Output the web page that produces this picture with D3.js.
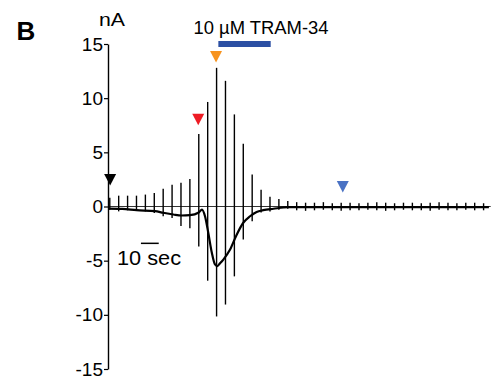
<!DOCTYPE html>
<html>
<head>
<meta charset="utf-8">
<script src="https://cdn.jsdelivr.net/npm/d3@7"></script>
<style>
  body { margin: 0; background: #fff; }
  svg { display: block; font-family: 'Liberation Sans', Arial, sans-serif; }
</style>
</head>
<body>
<svg class="chart" width="493" height="383"></svg>
<script>
// y axis ticks (nA)
const yTicks = [15, 10, 5, 0, -5, -10, -15]

// voltage ramps, one every 5 s (time in s, peak currents in nA)
const spikeTimes = [1, 6, 11, 16, 21, 26, 31, 36, 41, 46, 51, 56, 61, 66, 71, 76, 81, 86, 91, 96, 101,
  106, 111, 116, 121, 126, 131, 136, 141, 146, 151, 156, 161, 166, 171, 176, 181, 186, 191, 196, 201, 206, 211]
const spikeTops = [0.8, 1.0, 1.0, 1.0, 1.1, 1.25, 1.65, 2.0, 2.2, 2.55, 6.7, 9.65, 12.8, 11.6, 8.5, 5.8, 2.95, 1.55, 0.9, 0.7, 0.5,
  0.4, 0.35, 0.35, 0.4, 0.3, 0.35, 0.35, 0.3, 0.35, 0.4, 0.35, 0.3, 0.35, 0.35, 0.3, 0.35, 0.4, 0.35, 0.3, 0.35, 0.35, 0.3]
const spikeBottoms = [-0.3, -0.45, -0.35, -0.4, -0.45, -0.6, -0.9, -1.05, -1.8, -2.0, -3.7, -6.85, -10.15, -9.05, -6.45, -3.05, -1.35, -0.55, -0.45, -0.3, -0.2,
  -0.35, -0.4, -0.35, -0.3, -0.35, -0.4, -0.35, -0.35, -0.3, -0.35, -0.4, -0.35, -0.3, -0.35, -0.35, -0.4, -0.3, -0.35, -0.35, -0.3, -0.35, -0.35]

// holding current trace
const holdTimes = [0, 8, 16, 26.4, 31, 36.7, 41.4, 46, 51, 52.8, 54.5, 56.3, 58.3, 60.1, 61.4, 62.9, 64.8, 68.5, 72.3, 76,
  79.8, 83.5, 87.2, 92.9, 101.3, 130, 160, 190, 214]
const holdValues = [-0.2, -0.22, -0.34, -0.43, -0.58, -0.74, -0.83, -0.8, -0.55, -0.28, -0.9, -2.4, -4.25, -5.35, -5.5, -5.25, -4.9, -4.0, -2.6, -1.5,
  -0.9, -0.5, -0.34, -0.21, -0.06, -0.05, -0.05, -0.05, -0.05]

// arrowheads (time, level of the tip)
const markerTimes = [1.2, 50.7, 60.7, 131.9]
const markerTips = [1.95, 7.5, 13.3, 1.3]
const markerColors = ['#000000', '#ee1c24', '#f7931e', '#4a72c4']

// drug application bar
const drugLabel = '10 \u00b5M TRAM-34'
const drugStart = 62
const drugEnd = 91.4
const drugLevel = 15

// time scale bar
const scaleBarStart = 18.5
const scaleBarLength = 10
const scaleBarLevel = -3.4

const svg = d3.select('svg.chart')

const x = d3.scaleLinear().domain([0, 215]).range([108, 490.7])
const y = d3.scaleLinear().domain([-15, 15]).range([369, 44])

// zero line
svg.append('line')
  .attr('x1', x(0))
  .attr('x2', x(215))
  .attr('y1', y(0))
  .attr('y2', y(0))
  .attr('stroke', '#333')
  .attr('stroke-width', 1)

// ramps
svg.append('g')
  .selectAll('line')
  .data(spikeTimes)
  .enter().append('line')
  .attr('x1', d => x(d))
  .attr('x2', d => x(d))
  .attr('y1', (d, i) => y(spikeTops[i]))
  .attr('y2', (d, i) => y(spikeBottoms[i]))
  .attr('stroke', '#000')
  .attr('stroke-width', 1.4)

// holding current
const line = d3.line()
  .x(d => x(d[0]))
  .y(d => y(d[1]))
  .curve(d3.curveMonotoneX)

svg.append('path')
  .datum(holdTimes.map((t, i) => [t, holdValues[i]]))
  .attr('d', line)
  .attr('fill', 'none')
  .attr('stroke', '#000')
  .attr('stroke-width', 2.2)

// y axis
const yAxis = d3.axisLeft(y)
  .tickValues(yTicks)
  .tickFormat(d => String(d))
  .tickSize(4)
  .tickSizeOuter(0)
  .tickPadding(1)

const axisG = svg.append('g')
  .attr('transform', 'translate(' + x(0) + ',0)')
  .call(yAxis)

axisG.select('.domain').attr('stroke', '#000').attr('stroke-width', 1.4)
axisG.selectAll('.tick line').attr('stroke', '#000').attr('stroke-width', 1.2)
axisG.selectAll('.tick text')
  .attr('font-family', "'Liberation Sans', Arial, sans-serif")
  .attr('font-size', 19)
  .attr('fill', '#000')

// arrowheads
svg.append('g')
  .selectAll('path')
  .data(markerTimes)
  .enter().append('path')
  .attr('transform', (d, i) => 'translate(' + x(d) + ',' + y(markerTips[i]) + ')')
  .attr('d', 'M0,0L-6,-11.5L6,-11.5Z')
  .attr('fill', (d, i) => markerColors[i])

// drug bar + label
svg.append('rect')
  .attr('x', x(drugStart))
  .attr('y', y(drugLevel) - 3)
  .attr('width', x(drugEnd) - x(drugStart))
  .attr('height', 6)
  .attr('fill', '#2b4fa3')

svg.append('text')
  .attr('x', 193.5)
  .attr('y', 34)
  .attr('font-size', 17.5)
  .attr('textLength', 135)
  .attr('lengthAdjust', 'spacingAndGlyphs')
  .text(drugLabel)

// time scale bar
svg.append('line')
  .attr('x1', x(scaleBarStart))
  .attr('x2', x(scaleBarStart + scaleBarLength))
  .attr('y1', y(scaleBarLevel))
  .attr('y2', y(scaleBarLevel))
  .attr('stroke', '#000')
  .attr('stroke-width', 1.5)

svg.append('text')
  .attr('x', 117)
  .attr('y', 265)
  .attr('font-size', 19.5)
  .attr('textLength', 64)
  .attr('lengthAdjust', 'spacingAndGlyphs')
  .text('10 sec')

// unit and panel letter
svg.append('text')
  .attr('x', 99)
  .attr('y', 25.7)
  .attr('font-size', 17.5)
  .attr('textLength', 26)
  .attr('lengthAdjust', 'spacingAndGlyphs')
  .text('nA')

svg.append('text')
  .attr('x', 16.5)
  .attr('y', 40)
  .attr('font-size', 26)
  .attr('font-weight', 'bold')
  .text('B')
</script>
</body>
</html>
